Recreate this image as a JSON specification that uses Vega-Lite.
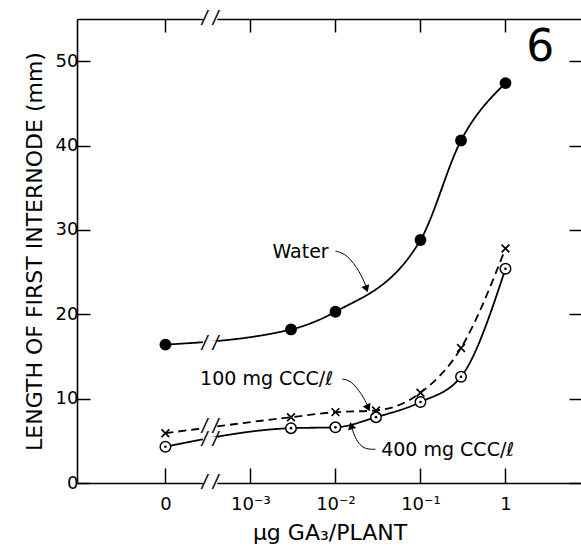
{
  "$schema": "https://vega.github.io/schema/vega-lite/v6.json",
  "width": 505,
  "height": 464,
  "autosize": {"type": "none"},
  "padding": {"left": 77, "top": 19, "right": 0, "bottom": 64},
  "background": "white",
  "config": {
    "view": {"stroke": null},
    "font": "DejaVu Sans",
    "axis": {
      "domainColor": "black", "domainWidth": 1.6,
      "tickColor": "black", "tickWidth": 1.5,
      "labelColor": "black", "titleColor": "black",
      "grid": false,
      "labelFont": "DejaVu Sans", "titleFont": "DejaVu Sans",
      "titleFontWeight": "normal"
    }
  },
  "datasets": {
    "curves": [
      {"series": "Water", "dose": "0", "logdose": -4, "length": 16.4},
      {"series": "Water", "dose": "0.003", "logdose": -2.523, "length": 18.2},
      {"series": "Water", "dose": "0.01", "logdose": -2, "length": 20.3},
      {"series": "Water", "dose": "0.1", "logdose": -1, "length": 28.8},
      {"series": "Water", "dose": "0.3", "logdose": -0.523, "length": 40.6},
      {"series": "Water", "dose": "1", "logdose": 0, "length": 47.4},
      {"series": "100 mg CCC/l", "dose": "0", "logdose": -4, "length": 5.9},
      {"series": "100 mg CCC/l", "dose": "0.003", "logdose": -2.523, "length": 7.8},
      {"series": "100 mg CCC/l", "dose": "0.01", "logdose": -2, "length": 8.4},
      {"series": "100 mg CCC/l", "dose": "0.03", "logdose": -1.523, "length": 8.6},
      {"series": "100 mg CCC/l", "dose": "0.1", "logdose": -1, "length": 10.7},
      {"series": "100 mg CCC/l", "dose": "0.3", "logdose": -0.523, "length": 16.0},
      {"series": "100 mg CCC/l", "dose": "1", "logdose": 0, "length": 27.8},
      {"series": "400 mg CCC/l", "dose": "0", "logdose": -4, "length": 4.3},
      {"series": "400 mg CCC/l", "dose": "0.003", "logdose": -2.523, "length": 6.5},
      {"series": "400 mg CCC/l", "dose": "0.01", "logdose": -2, "length": 6.6},
      {"series": "400 mg CCC/l", "dose": "0.03", "logdose": -1.523, "length": 7.8},
      {"series": "400 mg CCC/l", "dose": "0.1", "logdose": -1, "length": 9.6},
      {"series": "400 mg CCC/l", "dose": "0.3", "logdose": -0.523, "length": 12.6},
      {"series": "400 mg CCC/l", "dose": "1", "logdose": 0, "length": 25.4}
    ],
    "breaks": [
      {"where": "bottom axis", "y": 0},
      {"where": "top axis", "y": 55},
      {"where": "Water", "y": 16.5},
      {"where": "100 mg", "y": 6.6},
      {"where": "400 mg", "y": 5.1}
    ],
    "leaders": [
      {"lead": "Water", "o": 1, "lx": -2.0, "ly": 27.5},
      {"lead": "Water", "o": 2, "lx": -1.86, "ly": 27.1},
      {"lead": "Water", "o": 3, "lx": -1.71, "ly": 25.0},
      {"lead": "Water", "o": 4, "lx": -1.64, "ly": 23.3},
      {"lead": "100", "o": 1, "lx": -1.92, "ly": 12.3},
      {"lead": "100", "o": 2, "lx": -1.82, "ly": 12.2},
      {"lead": "100", "o": 3, "lx": -1.68, "ly": 10.4},
      {"lead": "100", "o": 4, "lx": -1.62, "ly": 9.1},
      {"lead": "400", "o": 1, "lx": -1.53, "ly": 4.0},
      {"lead": "400", "o": 2, "lx": -1.67, "ly": 4.0},
      {"lead": "400", "o": 3, "lx": -1.76, "ly": 5.1},
      {"lead": "400", "o": 4, "lx": -1.81, "ly": 6.6}
    ],
    "arrows": [
      {"lead": "Water", "lx": -1.635, "ly": 23.0},
      {"lead": "100", "lx": -1.615, "ly": 8.9},
      {"lead": "400", "lx": -1.815, "ly": 6.8}
    ],
    "labels": [
      {"label": "Water", "lx": -2.41, "ly": 27.4},
      {"label": "100 mg CCC/ℓ", "lx": -2.81, "ly": 12.3},
      {"label": "400 mg CCC/ℓ", "lx": -0.68, "ly": 3.9}
    ]
  },
  "layer": [
    {
      "data": {"name": "curves"},
      "mark": {"type": "line", "interpolate": "monotone", "strokeWidth": 1.8, "color": "black"},
      "encoding": {
        "x": {"field": "logdose", "type": "quantitative",
              "scale": {"domain": [-5.04, 0.9], "nice": false, "zero": false},
              "axis": {"orient": "bottom", "values": [-4, -3, -2, -1, 0], "tickSize": -15,
                       "labelExpr": "datum.value == -4 ? '0' : datum.value == 0 ? '1' : datum.value == -3 ? '10⁻³' : datum.value == -2 ? '10⁻²' : '10⁻¹'",
                       "labelFontSize": 18, "labelPadding": 27,
                       "title": "μg GA₃/PLANT", "titleFontSize": 22, "titlePadding": 9}},
        "y": {"field": "length", "type": "quantitative",
              "scale": {"domain": [0, 55], "nice": false},
              "axis": {"orient": "left", "values": [0, 10, 20, 30, 40, 50], "tickSize": -13,
                       "labelFontSize": 18, "labelPadding": 12,
                       "title": "LENGTH OF FIRST INTERNODE (mm)", "titleFontSize": 22, "titlePadding": 9}},
        "strokeDash": {"field": "series", "type": "nominal",
                       "scale": {"domain": ["Water", "100 mg CCC/l", "400 mg CCC/l"], "range": [[1, 0], [8, 5], [1, 0]]},
                       "legend": null},
        "detail": {"field": "series"}
      }
    },
    {
      "data": {"name": "breaks"},
      "mark": {"type": "rule", "color": "white", "strokeWidth": 7},
      "encoding": {
        "x": {"datum": -3.56, "type": "quantitative", "axis": null},
        "x2": {"datum": -3.39},
        "y": {"field": "y", "type": "quantitative", "axis": null}
      }
    },
    {
      "data": {"name": "breaks"},
      "mark": {"type": "text", "text": "/  /", "fontSize": 20, "font": "Liberation Sans", "fontStyle": "italic", "color": "black", "baseline": "middle", "align": "center"},
      "encoding": {
        "x": {"datum": -3.475, "type": "quantitative", "axis": null},
        "y": {"field": "y", "type": "quantitative", "axis": null}
      }
    },
    {
      "data": {"name": "curves"},
      "transform": [{"filter": "datum.series == 'Water'"}],
      "mark": {"type": "point", "shape": "circle", "filled": true, "color": "black", "size": 140, "opacity": 1},
      "encoding": {
        "x": {"field": "logdose", "type": "quantitative",
              "axis": {"orient": "top", "values": [-4, -3, -2, -1, 0], "tickSize": -13, "labels": false, "title": null}},
        "y": {"field": "length", "type": "quantitative",
              "axis": {"orient": "right", "values": [0, 10, 20, 30, 40, 50], "tickSize": -13, "labels": false, "title": null}}
      }
    },
    {
      "data": {"name": "curves"},
      "transform": [{"filter": "datum.series == '400 mg CCC/l'"}],
      "mark": {"type": "point", "shape": "circle", "filled": true, "fill": "white", "stroke": "black", "strokeWidth": 1.5, "size": 110, "opacity": 1},
      "encoding": {
        "x": {"field": "logdose", "type": "quantitative", "axis": null},
        "y": {"field": "length", "type": "quantitative", "axis": null}
      }
    },
    {
      "data": {"name": "curves"},
      "transform": [{"filter": "datum.series == '400 mg CCC/l'"}],
      "mark": {"type": "point", "shape": "circle", "filled": true, "color": "black", "size": 7, "opacity": 1},
      "encoding": {
        "x": {"field": "logdose", "type": "quantitative", "axis": null},
        "y": {"field": "length", "type": "quantitative", "axis": null}
      }
    },
    {
      "data": {"name": "curves"},
      "transform": [{"filter": "datum.series == '100 mg CCC/l'"}],
      "mark": {"type": "point", "shape": "M-1,-1L1,1M-1,1L1,-1", "filled": false, "stroke": "black", "strokeWidth": 1.7, "size": 60, "opacity": 1},
      "encoding": {
        "x": {"field": "logdose", "type": "quantitative", "axis": null},
        "y": {"field": "length", "type": "quantitative", "axis": null}
      }
    },
    {
      "data": {"name": "leaders"},
      "mark": {"type": "line", "interpolate": "basis", "color": "black", "strokeWidth": 1},
      "encoding": {
        "x": {"field": "lx", "type": "quantitative", "axis": null},
        "y": {"field": "ly", "type": "quantitative", "axis": null},
        "detail": {"field": "lead"},
        "order": {"field": "o"}
      }
    },
    {
      "data": {"name": "arrows"},
      "transform": [{"filter": "datum.lead == 'Water'"}],
      "mark": {"type": "point", "shape": "triangle-down", "filled": true, "color": "black", "size": 70, "angle": -20, "opacity": 1},
      "encoding": {
        "x": {"field": "lx", "type": "quantitative", "axis": null},
        "y": {"field": "ly", "type": "quantitative", "axis": null}
      }
    },
    {
      "data": {"name": "arrows"},
      "transform": [{"filter": "datum.lead == '100'"}],
      "mark": {"type": "point", "shape": "triangle-down", "filled": true, "color": "black", "size": 70, "angle": -25, "opacity": 1},
      "encoding": {
        "x": {"field": "lx", "type": "quantitative", "axis": null},
        "y": {"field": "ly", "type": "quantitative", "axis": null}
      }
    },
    {
      "data": {"name": "arrows"},
      "transform": [{"filter": "datum.lead == '400'"}],
      "mark": {"type": "point", "shape": "triangle-up", "filled": true, "color": "black", "size": 70, "angle": -16, "opacity": 1},
      "encoding": {
        "x": {"field": "lx", "type": "quantitative", "axis": null},
        "y": {"field": "ly", "type": "quantitative", "axis": null}
      }
    },
    {
      "data": {"name": "labels"},
      "mark": {"type": "text", "fontSize": 19, "color": "black", "align": "center", "baseline": "middle"},
      "encoding": {
        "x": {"field": "lx", "type": "quantitative", "axis": null},
        "y": {"field": "ly", "type": "quantitative", "axis": null},
        "text": {"field": "label"}
      }
    },
    {
      "data": {"values": [{"panel": "6", "lx": 0.41, "ly": 51.6}]},
      "mark": {"type": "text", "fontSize": 44, "color": "black", "align": "center", "baseline": "middle"},
      "encoding": {
        "x": {"field": "lx", "type": "quantitative", "axis": null},
        "y": {"field": "ly", "type": "quantitative", "axis": null},
        "text": {"field": "panel"}
      }
    }
  ],
  "resolve": {"axis": {"x": "independent", "y": "independent"}}
}
